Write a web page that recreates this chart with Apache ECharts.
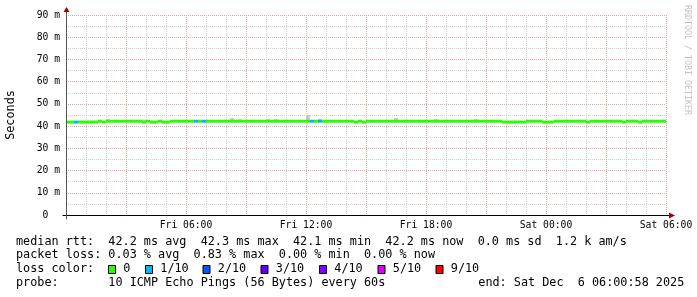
<!DOCTYPE html>
<html><head><meta charset="utf-8">
<script src="https://cdn.jsdelivr.net/npm/echarts@6/dist/echarts.min.js"></script>
<style>html,body{margin:0;padding:0;background:#fff}#c{width:697px;height:297px}</style>
</head><body><div id="c"></div>
<script>
// ---- data ----
const STEP_HOURS = 0.2; // 12 minute consolidation, hours since Fri 00:00
const medianRtt = [
  41.8,41.8,41.8,41.8,41.8,41.8,41.8,41.8,42.2,41.8,
  42.2,42.2,42.2,42.2,42.2,42.2,42.2,42.2,42.2,41.8,
  42.2,41.8,41.8,42.2,41.8,41.8,42.2,42.2,42.2,42.2,
  42.2,42.2,42.2,42.2,42.2,42.2,42.2,42.2,42.2,42.2,
  42.2,42.2,42.2,42.2,42.2,42.2,42.2,42.2,42.2,42.2,
  42.2,42.2,42.2,42.2,42.2,42.2,42.2,42.2,42.2,42.2,
  42.2,42.2,42.2,42.2,42.2,42.2,42.2,42.2,42.2,42.2,
  42.2,42.2,41.8,42.2,41.8,42.2,42.2,42.2,42.2,42.2,
  42.2,42.2,42.2,42.2,42.2,42.2,42.2,42.2,42.2,42.2,
  42.2,42.2,42.2,42.2,42.2,42.2,42.2,42.2,42.2,42.2,
  42.2,42.2,42.2,42.2,42.2,42.2,42.2,42.2,42.2,41.8,
  41.8,41.8,41.8,41.8,41.8,42.2,42.2,42.2,42.2,41.8,
  41.8,41.8,42.2,42.2,42.2,42.2,42.2,42.2,42.2,42.2,
  41.8,42.2,42.2,42.2,42.2,42.2,42.2,42.2,42.2,41.8,
  42.2,42.2,42.2,41.8,42.2,42.2,42.2,42.2,42.2,42.2
];
const lostPings = [
  0,0,1,0,0,0,0,0,0,0, 0,0,0,0,0,0,0,0,0,0,
  0,0,0,0,0,0,0,0,0,0, 0,0,1,0,1,0,0,0,0,0,
  0,0,0,0,0,0,0,0,0,0, 0,0,0,0,0,0,0,0,0,0,
  0,1,0,1,0,0,0,0,0,0, 0,0,0,0,0,0,0,0,0,0,
  0,0,0,0,0,0,0,0,0,0, 0,0,0,0,0,0,0,0,0,0,
  0,0,0,0,0,0,0,0,0,0, 0,0,0,0,0,0,0,0,0,0,
  0,0,0,0,0,0,0,0,0,0, 0,0,0,0,0,0,0,0,0,0,
  0,0,0,0,0,0,0,0,0,0
];
const smokeHours = [2.0, 3.8, 8.2, 8.6, 10.0, 10.4, 12.0, 12.6, 16.4, 18.4, 20.4];
const smokeMin   = [42.0, 41.8, 42.0, 42.0, 42.0, 42.0, 42.0, 42.0, 42.0, 42.0, 42.0];
const smokeMax   = [43.2, 42.9, 43.6, 43.1, 43.2, 43.2, 45.0, 43.2, 43.6, 43.2, 43.2];

const xTickHours  = [6, 12, 18, 24, 30];
const xTickLabels = ['Fri 06:00', 'Fri 12:00', 'Fri 18:00', 'Sat 00:00', 'Sat 06:00'];
const yTickValues = [0, 10, 20, 30, 40, 50, 60, 70, 80, 90];
const yTickLabels = ['0  ', '10 m', '20 m', '30 m', '40 m', '50 m', '60 m', '70 m', '80 m', '90 m'];

const lossThresholds = [0, 1, 2, 3, 4, 5, 9];
const lossLabels = ['0', '1/10', '2/10', '3/10', '4/10', '5/10', '9/10'];
const lossColors = ['#26ff00', '#00b8ff', '#0059ff', '#5e00ff', '#7e00ff', '#dd00ff', '#ff0000'];

const statLine1 = 'median rtt:  42.2 ms avg  42.3 ms max  42.1 ms min  42.2 ms now  0.0 ms sd  1.2 k am/s';
const statLine2 = 'packet loss: 0.03 % avg  0.83 % max  0.00 % min  0.00 % now';
const lossTitle = 'loss color:';
const probeLine = 'probe:       10 ICMP Echo Pings (56 Bytes) every 60s';
const endLine = 'end: Sat Dec  6 06:00:58 2025';
const watermark = 'RRDTOOL / TOBI OETIKER';

// ---- chart ----
const MONO = "'DejaVu Sans Mono', monospace";
const MAJOR = '#e6a6a6';
const MINOR = '#cdcdcd';

function lossColor(n) {
  let c = lossColors[0];
  for (let i = 0; i < lossThresholds.length; i++) if (n >= lossThresholds[i]) c = lossColors[i];
  return c;
}

const bandData = medianRtt.map((v, i) => [i * STEP_HOURS, v, lostPings[i]]);
const smokeData = smokeHours.map((h, i) => [h, smokeMin[i], smokeMax[i]]);

const chart = echarts.init(document.getElementById('c'), null, {renderer: 'canvas'});
const option = {
  animation: false,
  backgroundColor: '#ffffff',
  grid: {left: 66, right: 31, top: 15, height: 200, containLabel: false, outerBoundsMode: 'none'},
  xAxis: {
    type: 'value', min: 0, max: 30, interval: 3,
    axisLine: {show: false}, axisTick: {show: false},
    minorTick: {show: false, splitNumber: 3},
    splitLine: {show: true, lineStyle: {color: MAJOR, type: [1, 1], width: 1}},
    minorSplitLine: {show: true, lineStyle: {color: MINOR, type: [1, 1], width: 1}},
    axisLabel: {
      margin: 5, fontFamily: MONO, fontSize: 9.7, color: '#000',
      showMinLabel: false, showMaxLabel: true, hideOverlap: false,
      formatter: v => { const k = xTickHours.indexOf(v); return k >= 0 ? xTickLabels[k] : ''; }
    }
  },
  yAxis: {
    type: 'value', min: 0, max: 90, interval: 10,
    name: 'Seconds', nameLocation: 'middle', nameGap: 49, nameRotate: 90,
    nameTextStyle: {fontFamily: MONO, fontSize: 11.8, color: '#000'},
    axisLine: {show: false}, axisTick: {show: false},
    minorTick: {show: false, splitNumber: 2},
    splitLine: {show: true, lineStyle: {color: MAJOR, type: [1, 1], width: 1}},
    minorSplitLine: {show: true, lineStyle: {color: MINOR, type: [1, 1], width: 1}},
    axisLabel: {
      margin: 6, fontFamily: MONO, fontSize: 9.7, color: '#000',
      formatter: v => { const k = yTickValues.indexOf(v); return k >= 0 ? yTickLabels[k] : ''; }
    }
  },
  series: [
    {
      type: 'custom', name: 'smoke', data: smokeData, clip: true, z: 2, silent: true,
      encode: {x: 0, y: [1, 2]},
      renderItem: (params, api) => {
        const t = api.value(0);
        const a = api.coord([t, api.value(2)]);
        const b = api.coord([t + STEP_HOURS, api.value(1)]);
        return {type: 'rect', shape: {x: a[0], y: a[1], width: b[0] - a[0], height: b[1] - a[1]},
                style: {fill: '#c8c8c8'}};
      }
    },
    {
      type: 'custom', name: 'median', data: bandData, clip: true, z: 3, silent: true,
      encode: {x: 0, y: 1},
      renderItem: (params, api) => {
        const t = api.value(0), v = api.value(1);
        const a = api.coord([t, v]);
        const b = api.coord([t + STEP_HOURS, v]);
        return {type: 'rect', shape: {x: a[0], y: a[1] - 1.5, width: b[0] - a[0], height: 3},
                style: {fill: lossColor(api.value(2))}};
      }
    }
  ]
};
chart.setOption(option);

// axes, arrows and legend text
const o = chart.convertToPixel({gridIndex: 0}, [0, 0]);
const tr = chart.convertToPixel({gridIndex: 0}, [30, 90]);
const ox = Math.round(o[0]) + 0.5, oy = Math.round(o[1]) + 0.5;
const rx = Math.round(tr[0]), ty = Math.round(tr[1]);
const ARROW = '#a00000';
const g = [];
g.push({type: 'line', shape: {x1: ox - 4, y1: oy, x2: rx + 4, y2: oy}, style: {stroke: '#000', lineWidth: 1}, z: 10});
g.push({type: 'line', shape: {x1: ox, y1: oy + 4, x2: ox, y2: ty - 4}, style: {stroke: '#555', lineWidth: 1}, z: 10});
g.push({type: 'polygon', shape: {points: [[rx + 9, oy], [rx + 3, oy - 3], [rx + 3, oy + 3]]}, style: {fill: ARROW}, z: 11});
g.push({type: 'polygon', shape: {points: [[ox, ty - 8], [ox - 3, ty - 3], [ox + 3, ty - 3]]}, style: {fill: ARROW}, z: 11});

const TXT = {fontFamily: MONO, fontSize: 11.8, fill: '#000', verticalAlign: 'middle', align: 'left'};
g.push({type: 'text', x: 16, y: 241.7, style: Object.assign({text: statLine1}, TXT)});
g.push({type: 'text', x: 16, y: 255.2, style: Object.assign({text: statLine2}, TXT)});
g.push({type: 'text', x: 16, y: 269.2, style: Object.assign({text: lossTitle}, TXT)});
g.push({type: 'text', x: 16, y: 282.8, style: Object.assign({text: probeLine}, TXT)});
g.push({type: 'text', x: 478.3, y: 282.8, style: Object.assign({text: endLine}, TXT)});
const legendX = [108.5, 145.5, 203, 261, 319.5, 378, 436];
lossLabels.forEach((lab, i) => {
  g.push({type: 'rect', shape: {x: legendX[i], y: 265.5, width: 7, height: 8},
          style: {fill: lossColors[i], stroke: '#000', lineWidth: 1}});
  g.push({type: 'text', x: legendX[i] + 14.8, y: 269.2, style: Object.assign({text: lab}, TXT)});
});
g.push({type: 'text', x: 687.5, y: 5, rotation: -Math.PI / 2,
        style: {text: watermark, fontFamily: MONO, fontSize: 8.3, fill: '#c4c4c4', align: 'left', verticalAlign: 'middle'}});
chart.setOption({graphic: g});
</script>
</body></html>
